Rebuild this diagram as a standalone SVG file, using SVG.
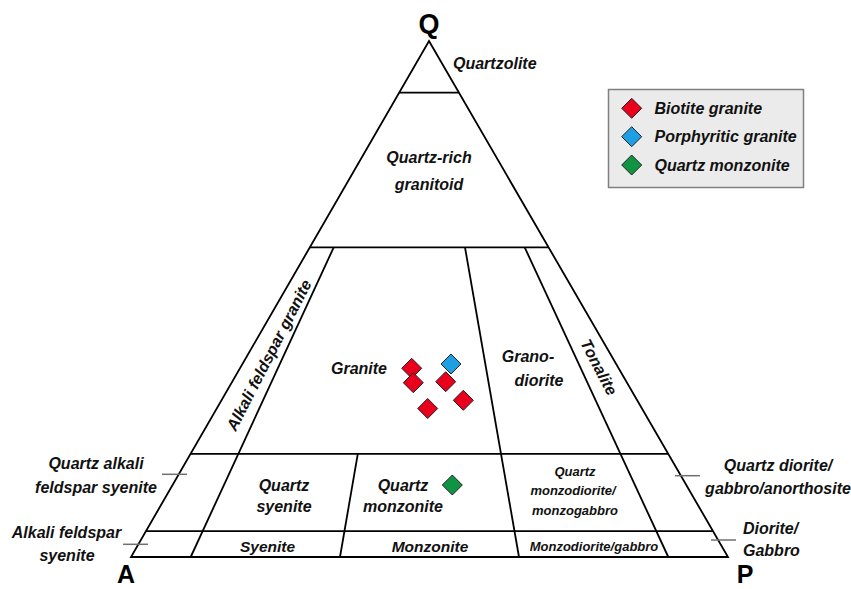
<svg xmlns="http://www.w3.org/2000/svg" width="851" height="589" viewBox="0 0 851 589">
<style>
.ln{stroke:#000;stroke-width:1.8;fill:none;stroke-linejoin:miter}
.tk{stroke:#707070;stroke-width:1.5;fill:none}
.t{font-family:"Liberation Sans",Arial,sans-serif;font-weight:bold;font-style:italic;font-size:16px;fill:#111}
.s{font-size:13px}
.ax{font-family:"Liberation Sans",Arial,sans-serif;font-weight:bold;font-size:27px;fill:#000}
.m{text-anchor:middle}
.dr{fill:#e8001c;stroke:#222;stroke-width:1}
.db{fill:#1e9fe3;stroke:#222;stroke-width:1}
.dg{fill:#109444;stroke:#222;stroke-width:1}
</style>
<defs>
<path id="dm" d="M0,-10 L10,0 L0,10 L-10,0 Z"/>
</defs>
<rect width="851" height="589" fill="#fff"/>
<g id="connectors">
<path class="ln" d="M429,41 L728,557 L131,557 Z"/>
<line class="ln" x1="399.2" y1="92.6" x2="458.9" y2="92.6"/>
<line class="ln" x1="309.8" y1="247.4" x2="548.6" y2="247.4"/>
<line class="ln" x1="190.6" y1="453.8" x2="668.2" y2="453.8"/>
<line class="ln" x1="145.9" y1="531.2" x2="713" y2="531.2"/>
<line class="ln" x1="333.7" y1="247.4" x2="190.7" y2="557"/>
<line class="ln" x1="465" y1="247.4" x2="519" y2="557"/>
<line class="ln" x1="524.7" y1="247.4" x2="668.3" y2="557"/>
<line class="ln" x1="357.8" y1="453.8" x2="340" y2="557"/>
<line class="tk" x1="162" y1="474.3" x2="187" y2="474.3"/>
<line class="tk" x1="123" y1="544.3" x2="148" y2="544.3"/>
<line class="tk" x1="675" y1="475.7" x2="700" y2="475.7"/>
<line class="tk" x1="711" y1="540" x2="736" y2="540"/>
</g>
<g id="apex-labels">
<text class="ax m" x="429" y="33">Q</text>
<text class="ax m" x="126" y="582.5" style="font-size:25px">A</text>
<text class="ax m" x="745" y="582.5" style="font-size:25px">P</text>
</g>
<g id="field-labels">
<text class="t" x="453" y="69">Quartzolite</text>
<text class="t m" x="429" y="163">Quartz-rich</text>
<text class="t m" x="429" y="190">granitoid</text>
<text class="t" x="331" y="374">Granite</text>
<text class="t m" x="528" y="362">Grano-</text>
<text class="t m" x="539" y="386">diorite</text>
<text class="t m" transform="translate(268.5,355) rotate(-62.8)" y="6">Alkali feldspar granite</text>
<text class="t m" transform="translate(599.3,367) rotate(62.5)" y="6">Tonalite</text>
<text class="t m" x="284" y="491">Quartz</text>
<text class="t m" x="284" y="512">syenite</text>
<text class="t m" x="403" y="491">Quartz</text>
<text class="t m" x="403" y="512">monzonite</text>
<text class="t s m" x="575" y="476">Quartz</text>
<text class="t s m" x="573" y="495">monzodiorite/</text>
<text class="t s m" x="575" y="515">monzogabbro</text>
<text class="t m" x="267.5" y="551.5" style="font-size:15.5px">Syenite</text>
<text class="t m" x="430" y="551.5" style="font-size:15.5px">Monzonite</text>
<text class="t s m" x="594" y="550.5">Monzodiorite/gabbro</text>
<text class="t m" x="96" y="469">Quartz alkali</text>
<text class="t m" x="96" y="492.5">feldspar syenite</text>
<text class="t m" x="66.5" y="537.5">Alkali feldspar</text>
<text class="t m" x="67" y="561">syenite</text>
<text class="t m" x="778" y="471">Quartz diorite/</text>
<text class="t m" x="778" y="494">gabbro/anorthosite</text>
<text class="t" x="743" y="534">Diorite/</text>
<text class="t" x="743" y="556">Gabbro</text>
</g>
<g id="data-points">
<use href="#dm" class="dr" x="411.7" y="368.3"/>
<use href="#dm" class="db" x="451" y="364"/>
<use href="#dm" class="dr" x="413.3" y="382.7"/>
<use href="#dm" class="dr" x="445.7" y="381.7"/>
<use href="#dm" class="dr" x="463.3" y="400.3"/>
<use href="#dm" class="dr" x="427.7" y="408.5"/>
<use href="#dm" class="dg" x="452.3" y="485"/>
</g>
<g id="legend">
<rect x="608.5" y="89.5" width="195" height="98" fill="#ebebeb" stroke="#808080" stroke-width="1.5"/>
<use href="#dm" class="dr" x="631.7" y="108.3"/>
<use href="#dm" class="db" x="631.7" y="136.7"/>
<use href="#dm" class="dg" x="631.7" y="165"/>
<text class="t" x="654.5" y="113.5">Biotite granite</text>
<text class="t" x="654.5" y="142">Porphyritic granite</text>
<text class="t" x="654.5" y="170.5">Quartz monzonite</text>
</g>
</svg>
